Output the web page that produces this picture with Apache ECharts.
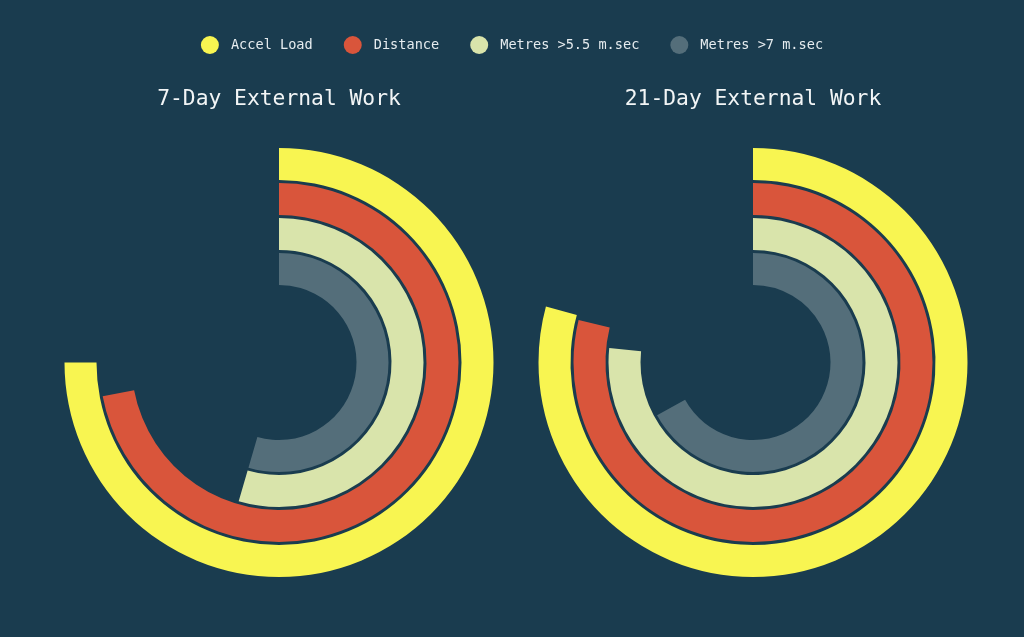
<!DOCTYPE html>
<html>
<head>
<meta charset="utf-8">
<title>External Work</title>
<script src="https://cdn.jsdelivr.net/npm/echarts@6/dist/echarts.min.js"></script>
<style>
	html, body { margin: 0; padding: 0; background: #1a3c4f; }
	#main { width: 1024px; height: 637px; }
</style>
</head>
<body>
<div id="main"></div>
<script>
// legend / ring names, outer ring first
var seriesNames = [ 'Accel Load', 'Distance', 'Metres >5.5 m.sec', 'Metres >7 m.sec' ];
var seriesColors = [ '#f8f551', '#d9553b', '#d9e4ab', '#546e7a' ];
var chartTitles = [ '7-Day External Work', '21-Day External Work' ];
// percent of a full turn, same order as seriesNames
var sevenDay = [ 75, 72, 54.5, 54.5 ];
var twentyOneDay = [ 79.2, 78.8, 76.6, 67 ];

var chartValues = [ sevenDay, twentyOneDay ];
var centersX = [ 279, 753 ];

var myChart = echarts.init(document.getElementById('main'));
var font = '"DejaVu Sans Mono", "Liberation Mono", monospace';

// radius axis runs inner -> outer, so reverse the names
var ringCats = seriesNames.slice().reverse();

var polar = [], angleAxis = [], radiusAxis = [], title = [], series = [];
for (var p = 0; p < 2; p++) {
	polar.push({
		center : [ centersX[p], 362.5 ],
		radius : [ 76, 216 ]
	});
	angleAxis.push({
		polarIndex : p,
		min : 0,
		max : 100,
		startAngle : 90,
		clockwise : true,
		show : false
	});
	radiusAxis.push({
		polarIndex : p,
		type : 'category',
		data : ringCats,
		show : false
	});
	title.push({
		text : chartTitles[p],
		left : centersX[p],
		top : 89,
		padding : 0,
		textAlign : 'center',
		textStyle : {
			color : '#f2f5f6',
			fontFamily : font,
			fontSize : 21.3,
			fontWeight : 'normal'
		}
	});
	for (var i = 0; i < seriesNames.length; i++) {
		// one ring per series, the other categories left empty
		var d = [ null, null, null, null ];
		d[ringCats.indexOf(seriesNames[i])] = chartValues[p][i];
		series.push({
			type : 'bar',
			name : seriesNames[i],
			coordinateSystem : 'polar',
			polarIndex : p,
			stack : 'rings' + p,
			barWidth : 32,
			data : d,
			itemStyle : {
				color : seriesColors[i]
			},
			emphasis : { disabled : true },
			animation : false
		});
	}
}

var option = {
	backgroundColor : '#1a3c4f',
	title : title,
	legend : {
		data : seriesNames,
		top : 31,
		left : 'center',
		icon : 'circle',
		itemWidth : 18,
		itemHeight : 18,
		itemGap : 31,
		textStyle : {
			color : '#e6ecef',
			fontFamily : font,
			fontSize : 13.6,
			padding : [ 0, 0, 0, 7 ]
		}
	},
	polar : polar,
	angleAxis : angleAxis,
	radiusAxis : radiusAxis,
	series : series
};
myChart.setOption(option);
</script>
</body>
</html>
